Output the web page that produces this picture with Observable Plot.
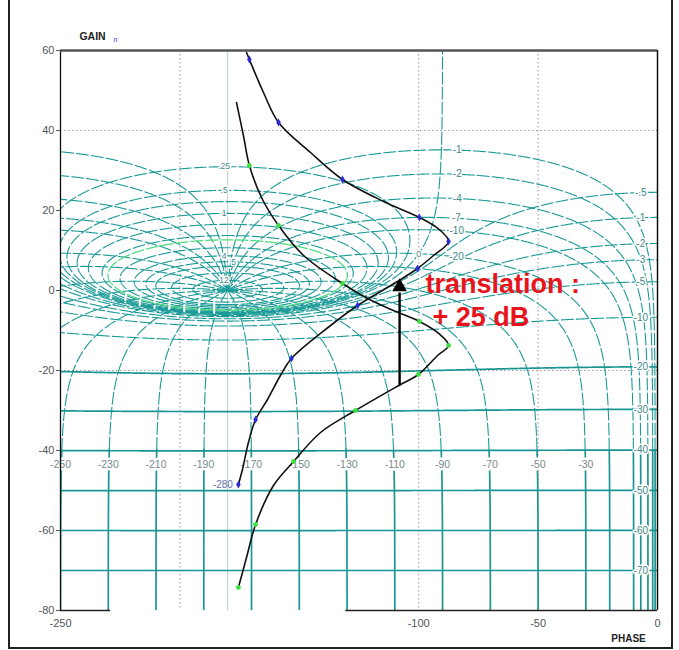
<!DOCTYPE html>
<html><head><meta charset="utf-8">
<script src="https://cdn.jsdelivr.net/npm/d3@7"></script>
<script src="https://cdn.jsdelivr.net/npm/@observablehq/plot@0.6"></script>
<style>
body{margin:0;background:#fff;}
#wrap{position:relative;width:679px;height:650px;overflow:hidden;background:#fff;}
#border{position:absolute;left:8px;top:-4px;width:665px;height:653px;border:2px solid #222;box-sizing:border-box;pointer-events:none;}
</style></head>
<body><div id="wrap"><div id="chart"></div><div id="border"></div></div>
<script>
// ---------- chart values ----------
const modulesDb = [-70,-60,-50,-40,-30,-20,-10,-5,-3,-2,-1,-0.5,0,0.25,0.5,0.7,1,1.4,2,2.3,3,4,5,6,8,12];
const phasesDeg = [-1,-2,-4,-7,-10,-20,-30,-50,-70,-90,-110,-130,-150,-170];
const highlightModule = 2.3;
const topLabelModules = [0.25,0.5,1,4,5,12];
const rightLabelModules = [-0.5,-1,-2,-3,-5,-10,-20,-30,-40,-50,-60,-70];
const phaseLabelValues = [-1,-2,-4,-7,-10,-20];
const gainTicks = [60,40,20,0,-20,-40,-60,-80];
const phaseTicksBottom = [-250,-100,-50,0];
const phaseTicksInner = [-250,-230,-210,-190,-170,-150,-130,-110,-90,-70,-50,-30];
const gridPhase = [-200,-100,-50];
const gridGain = [40,-20];

// open loop before translation (green markers)
const beforePhase = [-176.3,-173.4,-170.9,-165.4,-158.7,-148.2,-131.9,-121.4,-110.6,-99.7,-91.5,-87.5,-92.1,-100.1,-107.6,-126.5,-141.1,-152.4,-160.8,-168.3,-172.1,-175.5];
const beforeGain  = [47.0,38.75,31.25,22.75,16.25,8.75,1.75,-2,-5,-7.75,-10.8,-13.75,-16.25,-21,-23.5,-30,-35.5,-42.75,-48.75,-58.5,-66.75,-74.25];
const beforeMarkPhase = [-170.9,-158.7,-131.9,-99.7,-87.5,-100.1,-126.5,-152.4,-168.3,-175.5];
const beforeMarkGain  = [31.25,16.25,1.75,-7.75,-13.75,-21,-30,-42.75,-58.5,-74.25];
// open loop after +25 dB translation (blue markers)
const afterPhase = [-172.1,-170.9,-165.0,-158.7,-145.3,-131.9,-114.7,-99.7,-91.5,-87.5,-93.8,-100.5,-108.9,-125.6,-136.9,-153.3,-157.9,-163.3,-168.3,-171.3,-173.8,-175.5];
const afterGain  = [59.5,57.75,49.5,42,34.5,27.75,22.25,18.25,15.3,12.25,8.75,5.5,2.25,-3.75,-8.75,-17,-21.25,-27.25,-32.25,-38,-44.75,-48.5];
const afterMarkPhase = [-170.9,-158.7,-131.9,-99.7,-87.5,-100.5,-125.6,-153.3,-168.3,-175.5];
const afterMarkGain  = [57.75,42,27.75,18.25,12.25,5.5,-3.75,-17,-32.25,-48.5];

// ---------- Nichols grid geometry ----------
const norm = a => a > 0 ? a - 360 : a;
const toPt = (re, im) => ({phase: norm(Math.atan2(im, re) * 180 / Math.PI), gain: 20 * Math.log10(Math.hypot(re, im))});
const offscreen = p => p.gain > 64 || p.gain < -84 || p.phase < -254;
function sample(f, t0, t1, n) {
  const out = [];
  const rec = (a, pa, b, pb, d) => {
    if (offscreen(pa) && offscreen(pb)) return;
    const dp = Math.abs(pa.phase - pb.phase);
    if (dp > 180) return;
    const dist = dp * 2.4 + Math.abs(pa.gain - pb.gain) * 4;
    if (d < 12 && dist > 1.5) {
      const m = (a + b) / 2, pm = f(m);
      rec(a, pa, m, pm, d + 1); out.push(pm); rec(m, pm, b, pb, d + 1);
    }
  };
  let pa = f(t0); out.push(pa);
  for (let i = 1; i <= n; i++) {
    const a = t0 + (t1 - t0) * (i - 1) / n, b = t0 + (t1 - t0) * i / n, pb = f(b);
    rec(a, pa, b, pb, 0); out.push(pb); pa = pb;
  }
  return out;
}
function mContour(db) {
  const M = Math.pow(10, db / 20);
  if (db === 0) return sample(u => toPt(-0.5, Math.sinh(u)), -10, 10, 400);
  if (M < 1) {
    const c = M * M / (1 - M * M), r = M / (1 - M * M);
    return sample(t => toPt(c + r * Math.cos(t), r * Math.sin(t)), 1e-4, 2 * Math.PI - 1e-4, 720);
  }
  const c = -M * M / (M * M - 1), r = M / (M * M - 1);
  return sample(t => toPt(c + r * Math.cos(t), r * Math.sin(t)), 0, 2 * Math.PI, 720);
}
function nContour(deg) {
  const a = deg * Math.PI / 180;
  return sample(u => {
    const r = Math.exp(u), tr = r * Math.cos(a), ti = r * Math.sin(a);
    const dr = 1 - tr, di = -ti, den = dr * dr + di * di;
    return toPt((tr * dr + ti * di) / den, (ti * dr - tr * di) / den);
  }, -12, 12, 600);
}

const dashed = [], solid = [], green = [];
function pushSegments(pts, id, styleOf) {
  let cur = null, curStyle = null, k = 0;
  const tgt = {dashed, solid, green};
  for (const p of pts) {
    const s = styleOf(p);
    if (s !== curStyle) {
      if (cur) cur.push({phase: p.phase, gain: p.gain, id: cur[0].id});
      curStyle = s; k++; cur = [];
      tgt[s].push(cur);
    }
    cur.push({phase: p.phase, gain: p.gain, id: id + "_" + k});
  }
}
for (const db of modulesDb) {
  const pts = mContour(db);
  const st = db === highlightModule ? "green" : (db <= -20 ? "solid" : "dashed");
  pushSegments(pts, "m" + db, () => st);
}
const nLabelPts = [];
for (const d of phasesDeg) {
  for (const dd of [d, -360 - d]) {
    const pts = nContour(dd);
    pushSegments(pts, "n" + dd, p => p.gain < -40 ? "solid" : "dashed");
    if (dd === d && phaseLabelValues.includes(d)) {
      let best = null;
      for (const p of pts) if (p.gain > -5 && (!best || Math.abs(p.phase + 84) < Math.abs(best.phase + 84))) best = p;
      nLabelPts.push({phase: best.phase, gain: best.gain, v: d});
    }
  }
}
const dashedData = dashed.flat(), solidData = solid.flat(), greenData = green.flat();

const fmt = v => (v < 0 ? "-" : "") + String(Math.abs(v)).replace(/^0\./, ".");
const topLabels = topLabelModules.map((db, i) => { const M = Math.pow(10, db / 20); return {phase: db === 5 ? -177.5 : -181.5, gain: 20 * Math.log10(M / (M - 1)), t: fmt(db)}; });
const rightLabels = rightLabelModules.map(db => {
  const M = Math.pow(10, db / 20), ph = -7 * Math.PI / 180, cs = Math.cos(ph);
  const g = (M * M * cs + M * Math.sqrt(M * M * cs * cs + 1 - M * M)) / (1 - M * M);
  return {phase: -7, gain: 20 * Math.log10(g), t: fmt(db)};
});
const zeroLabel = [{phase: -100, gain: 20 * Math.log10(-1 / (2 * Math.cos(-100 * Math.PI / 180))), t: "0"}];
const beforeData = beforePhase.map((p, i) => ({phase: p, gain: beforeGain[i]}));
const afterData = afterPhase.map((p, i) => ({phase: p, gain: afterGain[i]}));
const beforeMarks = beforeMarkPhase.map((p, i) => ({phase: p, gain: beforeMarkGain[i]}));
const afterMarks = afterMarkPhase.map((p, i) => ({phase: p, gain: afterMarkGain[i]}));

const teal = "#1b9a98", labelCol = "#3f8888", halo = {stroke: "white", strokeWidth: 3, paintOrder: "stroke"};
const font = "'Liberation Sans', Arial, sans-serif";

const chart = Plot.plot({
  width: 679, height: 650,
  marginLeft: 60, marginRight: 22, marginTop: 50, marginBottom: 40,
  x: {domain: [-250, 0], axis: null},
  y: {domain: [-80, 60], axis: null},
  style: {background: "white", fontFamily: font},
  marks: [
    Plot.ruleX(gridPhase, {stroke: "#9a9a9a", strokeDasharray: "1.5,2.5"}),
    Plot.ruleY(gridGain, {stroke: "#9a9a9a", strokeDasharray: "1.5,2.5"}),
    Plot.ruleX([-180], {stroke: "#b9ccd2", strokeWidth: 1}),
    Plot.line(dashedData, {x: "phase", y: "gain", z: "id", stroke: teal, strokeWidth: 1.1, strokeDasharray: "12,3", clip: true}),
    Plot.line(solidData, {x: "phase", y: "gain", z: "id", stroke: "#1a9593", strokeWidth: 1.7, clip: true}),
    Plot.line(greenData, {x: "phase", y: "gain", z: "id", stroke: "#55dc84", strokeWidth: 1.3, strokeDasharray: "12,3", clip: true}),
    // inner phase label row
    Plot.text(phaseTicksInner, {x: d => d, y: () => -43.5, text: d => String(d), fontSize: 10.5, fill: "#7a8a8a", ...halo, strokeWidth: 5}),
    // contour labels
    Plot.text(topLabels, {x: "phase", y: "gain", text: "t", fontSize: 8.5, fill: labelCol, ...halo}),
    Plot.text(rightLabels, {x: "phase", y: "gain", text: "t", fontSize: 10, fill: labelCol, ...halo}),
    Plot.text(nLabelPts, {x: "phase", y: "gain", text: d => fmt(d.v), fontSize: 10, fill: labelCol, ...halo}),
    Plot.text(zeroLabel, {x: "phase", y: "gain", text: "t", fontSize: 9, fill: labelCol, ...halo}),
    // frame
    Plot.ruleX([-250], {stroke: "#111", strokeWidth: 1.3}),
    Plot.ruleX([0], {stroke: "#111", strokeWidth: 1.5}),
    Plot.ruleY([60], {stroke: "#555", strokeWidth: 2.5}),
    Plot.ruleY([-80], {x1: -250, x2: -229, stroke: "#222", strokeWidth: 1.3}),
    Plot.ruleY([-80], {x1: -130.5, x2: 0, stroke: "#222", strokeWidth: 1.3}),
    Plot.axisY(gainTicks, {anchor: "left", tickSize: 4, tickPadding: 2, fontSize: 11, color: "#555", tickFormat: d => String(d), label: null}),
    Plot.axisX(phaseTicksBottom, {anchor: "bottom", tickSize: 0, tickPadding: 9, fontSize: 11, color: "#555", tickFormat: d => String(d), label: null}),
    // response curves
    Plot.line(beforeData, {x: "phase", y: "gain", stroke: "#111", strokeWidth: 1.6, curve: "catmull-rom", clip: true}),
    Plot.line(afterData, {x: "phase", y: "gain", stroke: "#111", strokeWidth: 1.6, curve: "catmull-rom", clip: true}),
    Plot.dot(beforeMarks, {x: "phase", y: "gain", r: 2.4, fill: "#3ee03e", stroke: "none"}),
    Plot.dot(afterMarks, {x: "phase", y: "gain", r: 2.4, fill: "#2a2ad6", stroke: "none", symbol: "diamond"}),
    Plot.text(["-280"], {x: () => -182, y: () => -48.5, text: d => d, fontSize: 10, fill: "#6470a8"}),
    // translation arrow + annotation
    Plot.link([0], {x1: () => -108, y1: () => -23.75, x2: () => -108, y2: () => -0.5, stroke: "#000", strokeWidth: 2.4}),
    Plot.dot([0], {x: () => -108, y: () => 0.9, symbol: "triangle", r: 5.5, fill: "#000", stroke: "none"}),
    Plot.text(["translation :"], {x: () => -97.2, y: () => 1.6, text: d => d, textAnchor: "start", fontSize: 27, fontWeight: "bold", fill: "#e8141c"}),
    Plot.text(["+ 25 dB"], {x: () => -94.2, y: () => -6.6, text: d => d, textAnchor: "start", fontSize: 27, fontWeight: "bold", fill: "#e8141c"}),
    // axis names
    Plot.text(["GAIN"], {x: () => -250, y: () => 60, dx: 32, dy: -14, text: d => d, fontSize: 10.5, fontWeight: "bold", fill: "#222"}),
    Plot.text(["n"], {x: () => -250, y: () => 60, dx: 55, dy: -11, text: d => d, fontSize: 7, fill: "#3a3ad0"}),
    Plot.text(["PHASE"], {x: () => 0, y: () => -80, dx: -29, dy: 28, text: d => d, fontSize: 10, fontWeight: "bold", fill: "#222"})
  ]
});
document.getElementById("chart").append(chart);
</script>
</body></html>
